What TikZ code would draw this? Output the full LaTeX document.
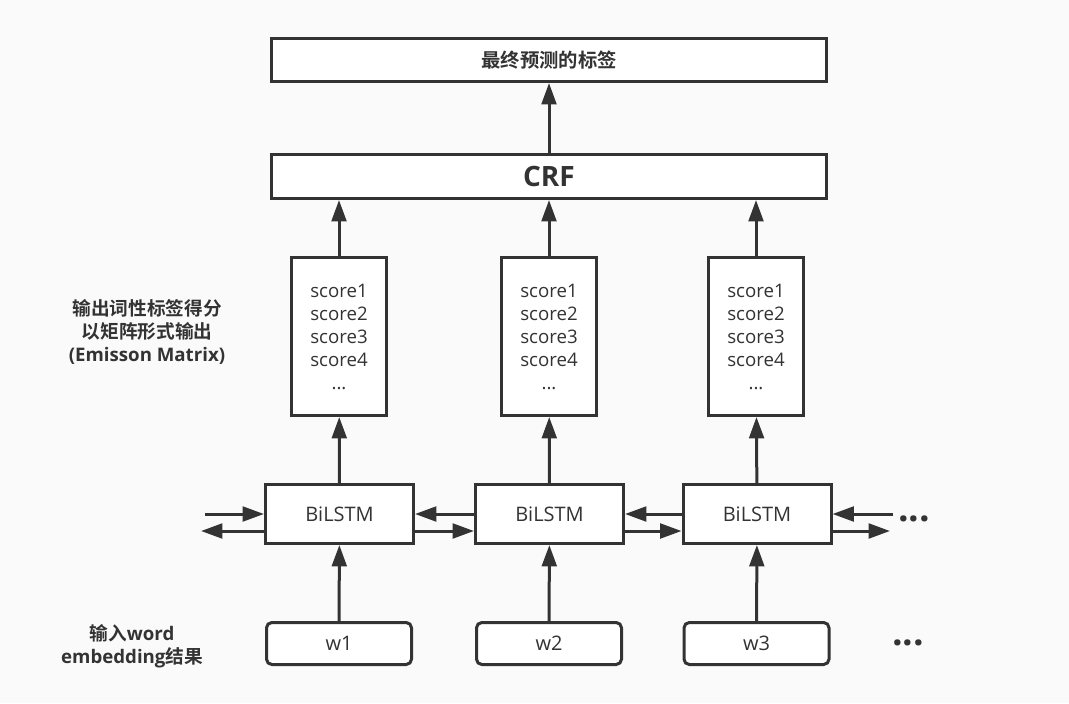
\documentclass[tikz,border=0pt]{standalone}
\usepackage{fontspec}
\setmainfont{Open Sans}
\newfontfamily\cjk{Noto Sans CJK SC}[BoldFont={Noto Sans CJK SC Bold}]
\usetikzlibrary{arrows.meta}

\definecolor{ink}{HTML}{333333}
\definecolor{paper}{HTML}{FAFAFA}

\tikzset{
  box/.style={draw=ink, fill=white, line width=2.25pt, inner sep=0pt, text=ink},
  layer/.style={box, minimum width=416.25pt, minimum height=32.25pt},
  scorebox/.style={box, minimum width=71.25pt, minimum height=118.5pt, align=center,
    font=\fontsize{14}{17.25}\selectfont},
  lstm/.style={box, minimum width=111pt, minimum height=44.25pt, font=\fontsize{15}{17}\selectfont},
  wordbox/.style={box, rounded corners=4pt, minimum width=108.75pt, minimum height=31.5pt,
    font=\fontsize{15}{17}\selectfont},
  flow/.style={draw=ink, line width=2.25pt, -{Triangle[length=16pt,width=11pt]}},
  note/.style={text=ink, align=center, font=\bfseries\fontsize{14}{17.25}\selectfont},
  more/.style={text=ink, anchor=base, font=\bfseries\fontsize{28}{28}\selectfont},
}

\begin{document}
\begin{tikzpicture}[x=0.75pt, y=-0.75pt]
  \fill[paper] (0,0) rectangle (1069,703);
  \useasboundingbox (0,0) rectangle (1069,703);

  % output layers
  \node[layer] (label) at (549,60) {\cjk\bfseries\fontsize{14.5}{16}\selectfont 最终预测的标签};
  \node[layer, minimum height=33pt] (crf) at (549,176.5) {\bfseries\fontsize{21}{24}\selectfont CRF};

  % emission scores
  \node[scorebox] (s1) at (339,336.5) {score1\\score2\\score3\\score4\\...};
  \node[scorebox] (s2) at (549,336.5) {score1\\score2\\score3\\score4\\...};
  \node[scorebox] (s3) at (756,336.5) {score1\\score2\\score3\\score4\\...};

  % bilstm cells
  \node[lstm] (l1) at (339.5,514) {BiLSTM};
  \node[lstm] (l2) at (549.5,514) {BiLSTM};
  \node[lstm] (l3) at (757,514) {BiLSTM};

  % word embeddings
  \node[wordbox] (w1) at (339,643.5) {w1};
  \node[wordbox] (w2) at (549,643.5) {w2};
  \node[wordbox] (w3) at (756.5,643.5) {w3};

  \node[note] (emit) at (147,332) {{\cjk 输出词性标签得分}\\{\cjk 以矩阵形式输出}\\(Emisson Matrix)};
  \node[note] (embed) at (132,646) {{\cjk 输入}word\\embedding{\cjk 结果}};
  \node[more] (dots1) at (914,521) {...};
  \node[more] (dots2) at (908,645) {...};

  \coordinate (inL) at (205,514);
  \coordinate (outL) at (201,531);
  \coordinate (inR) at (893,514);
  \coordinate (outR) at (890,531);

  % vertical flow
  \draw[flow] (crf) -- (label);
  \foreach \i in {1,2,3} {
    \draw[flow] (w\i) -- (l\i);
    \draw[flow] (l\i) -- (s\i);
    \draw[flow] (s\i.north) -- (s\i.north |- crf.south);
  }

  % forward and backward links
  \draw[flow] (inL) -- (l1.west);
  \draw[flow] ([yshift=-12.75pt]l1.west) -- (outL);
  \draw[flow] (l2.west) -- (l1.east);
  \draw[flow] ([yshift=-12.75pt]l1.east) -- ([yshift=-12.75pt]l2.west);
  \draw[flow] (l3.west) -- (l2.east);
  \draw[flow] ([yshift=-12.75pt]l2.east) -- ([yshift=-12.75pt]l3.west);
  \draw[flow] (inR) -- (l3.east);
  \draw[flow] ([yshift=-12.75pt]l3.east) -- (outR);
\end{tikzpicture}
\end{document}
